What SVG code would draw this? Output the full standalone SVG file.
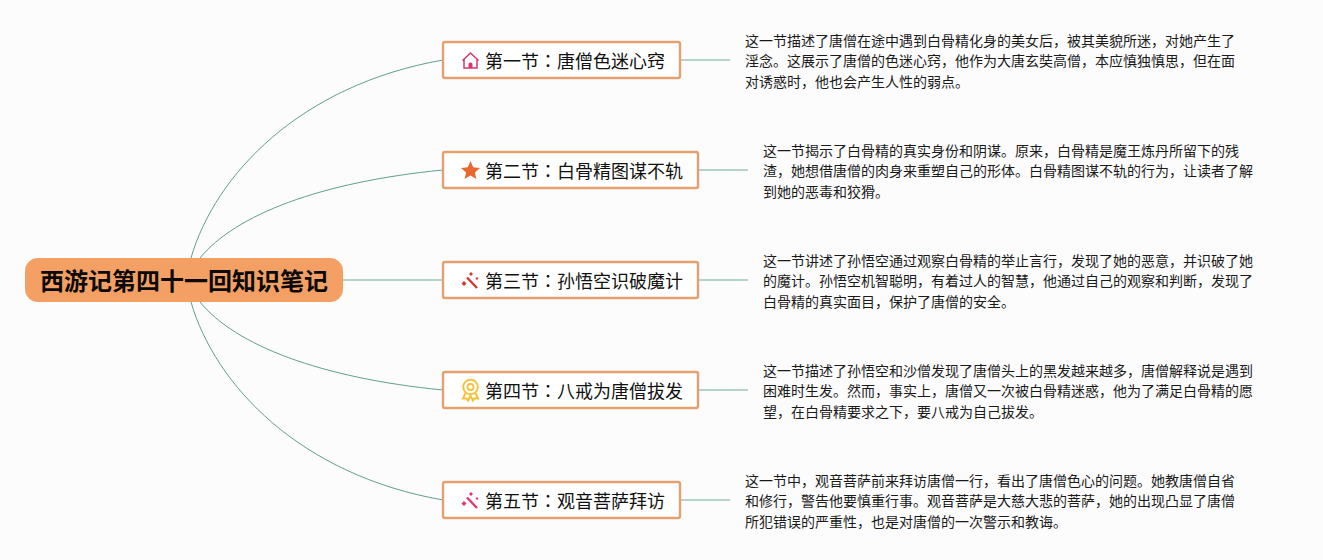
<svg xmlns="http://www.w3.org/2000/svg" width="1323" height="560" viewBox="0 0 1323 560">
<style>
text{font-family:"Noto Sans CJK SC","Liberation Sans",sans-serif;fill:#111}
.box{fill:#fff;stroke:#e3a070;stroke-width:2.4}
.t{font-size:18px}
.k{font-family:"Noto Sans CJK TC","Noto Sans CJK SC",sans-serif}
.d{font-size:14px;fill:#1a1a1a}
.c{fill:none;stroke:#5f9f90;stroke-width:1}
.s{fill:none;stroke:#9cc5b8;stroke-width:1.4}
</style>
<rect width="1323" height="560" fill="#fcfcfc"/>
<g id="connectors">
<path class="c" d="M191 258C215 175 300 85 443 60"/>
<path class="c" d="M200 258C235 215 320 182 443 170"/>
<path class="s" d="M343 280H443"/>
<path class="c" d="M200 302C235 345 320 378 443 390"/>
<path class="c" d="M191 302C215 385 300 475 443 500"/>
<path class="s" d="M680 60H730M698 170H748M698 280H748M698 390H748M680 500H730"/>
</g>
<g id="root">
<rect x="25" y="258" width="318" height="44" rx="13" fill="#f4a064"/>
<text x="40" y="290" style="font-size:24px;font-weight:700;fill:#0a0a0a">西游记第四十一回知识笔记</text>
</g>
<g id="node1">
<rect class="box" x="443" y="42" width="237" height="36" rx="2"/>
<path d="M462.500 60.500L470.500 53L478.500 60.500M464 59.500V68H477V59.500" fill="none" stroke="#d9376e" stroke-width="1.500"/>
<path d="M468.500 68V63.500Q470.500 61.500 472.500 63.500V68Z" fill="#d9376e"/>
<text class="t" x="485" y="67.500">第一节<tspan class="k">：</tspan>唐僧色迷心窍</text>
</g>
<g id="node2">
<rect class="box" x="443" y="152" width="255" height="36" rx="2"/>
<path d="M470.500 161L473.200 167.300L480 167.900L474.900 172.400L476.400 179L470.500 175.500L464.600 179L466.100 172.400L461 167.900L467.800 167.300Z" fill="#e8692f"/>
<text class="t" x="485" y="177.500">第二节<tspan class="k">：</tspan>白骨精图谋不轨</text>
</g>
<g id="node3">
<rect class="box" x="443" y="262" width="255" height="36" rx="2"/>
<path d="M467 277.500L477 288" fill="none" stroke="#d0392f" stroke-width="2.400"/>
<path d="M464 281l2.500 2.500-2.500 2.500-2.500-2.500ZM471 272l2 2-2 2-2-2ZM477 277l1.500 1.500-1.500 1.500-1.500-1.500Z" fill="#d0392f"/>
<text class="t" x="485" y="287.500">第三节<tspan class="k">：</tspan>孙悟空识破魔计</text>
</g>
<g id="node4">
<rect class="box" x="443" y="372" width="255" height="36" rx="2"/>
<circle cx="470.500" cy="387" r="7.300" fill="none" stroke="#f5c33b" stroke-width="2"/>
<circle cx="470.500" cy="387" r="3" fill="none" stroke="#f5c33b" stroke-width="1.800"/>
<path d="M465.500 393L463 398.500L466.500 398.500L468 400.500L470.500 395.500L473 400.500L474.500 398.500L478 398.500L475.500 393" fill="none" stroke="#f5c33b" stroke-width="2"/>
<text class="t" x="485" y="397.500">第四节<tspan class="k">：</tspan>八戒为唐僧拔发</text>
</g>
<g id="node5">
<rect class="box" x="443" y="482" width="237" height="36" rx="2"/>
<path d="M467 497.500L477 508" fill="none" stroke="#e8356d" stroke-width="2.400"/>
<path d="M464 501l2.500 2.500-2.500 2.500-2.500-2.500ZM471 492l2 2-2 2-2-2ZM477 497l1.500 1.500-1.500 1.500-1.500-1.500Z" fill="#e8356d"/>
<text class="t" x="485" y="507.500">第五节<tspan class="k">：</tspan>观音菩萨拜访</text>
</g>
<g id="desc1">
<text class="d" x="745" y="46">这一节描述了唐僧在途中遇到白骨精化身的美女后，被其美貌所迷，对她产生了</text>
<text class="d" x="745" y="66">淫念。这展示了唐僧的色迷心窍，他作为大唐玄奘高僧，本应慎独慎思，但在面</text>
<text class="d" x="745" y="86.500">对诱惑时，他也会产生人性的弱点。</text>
</g>
<g id="desc2">
<text class="d" x="763" y="156">这一节揭示了白骨精的真实身份和阴谋。原来，白骨精是魔王炼丹所留下的残</text>
<text class="d" x="763" y="176">渣，她想借唐僧的肉身来重塑自己的形体。白骨精图谋不轨的行为，让读者了解</text>
<text class="d" x="763" y="196.500">到她的恶毒和狡猾。</text>
</g>
<g id="desc3">
<text class="d" x="763" y="266">这一节讲述了孙悟空通过观察白骨精的举止言行，发现了她的恶意，并识破了她</text>
<text class="d" x="763" y="286">的魔计。孙悟空机智聪明，有着过人的智慧，他通过自己的观察和判断，发现了</text>
<text class="d" x="763" y="306.500">白骨精的真实面目，保护了唐僧的安全。</text>
</g>
<g id="desc4">
<text class="d" x="763" y="376">这一节描述了孙悟空和沙僧发现了唐僧头上的黑发越来越多，唐僧解释说是遇到</text>
<text class="d" x="763" y="396">困难时生发。然而，事实上，唐僧又一次被白骨精迷惑，他为了满足白骨精的愿</text>
<text class="d" x="763" y="416.500">望，在白骨精要求之下，要八戒为自己拔发。</text>
</g>
<g id="desc5">
<text class="d" x="745" y="486">这一节中，观音菩萨前来拜访唐僧一行，看出了唐僧色心的问题。她教唐僧自省</text>
<text class="d" x="745" y="506">和修行，警告他要慎重行事。观音菩萨是大慈大悲的菩萨，她的出现凸显了唐僧</text>
<text class="d" x="745" y="526.500">所犯错误的严重性，也是对唐僧的一次警示和教诲。</text>
</g>
</svg>
